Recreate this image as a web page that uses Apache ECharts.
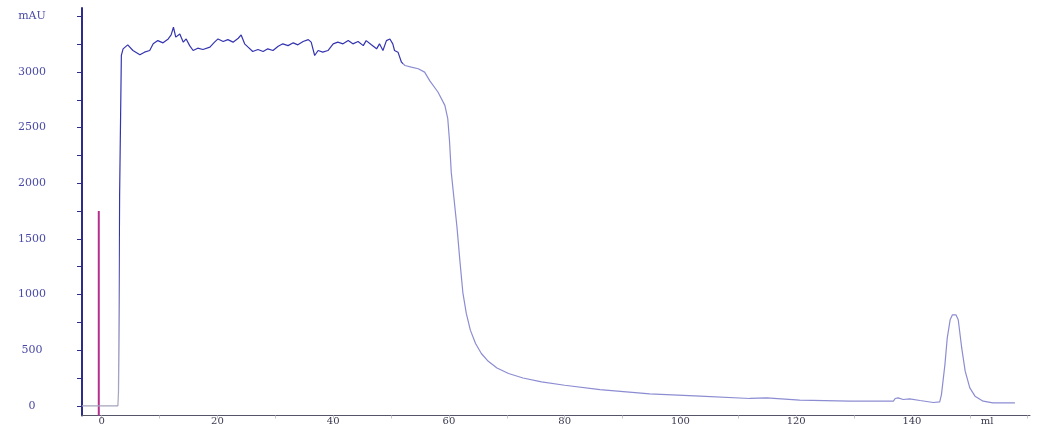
<!DOCTYPE html>
<html>
<head>
<meta charset="utf-8">
<script src="https://cdn.jsdelivr.net/npm/echarts@6/dist/echarts.min.js"></script>
<style>
html,body{margin:0;padding:0;background:#fff;}
#chart{width:1039px;height:426px;}
</style>
</head>
<body>
<div id="chart"></div>
<script>
// Volume (ml) and absorbance (mAU)
const volume = [-3.4,2.8,2.9,3.1,3.4,3.7,4.5,5.4,6.6,7.4,8.3,8.9,9.7,10.6,11.5,12.0,12.4,12.8,13.5,14.1,14.6,15.2,15.8,16.6,17.5,18.7,19.5,20.1,21.0,21.8,22.7,23.6,24.1,24.7,25.3,26.1,27.0,27.9,28.7,29.6,30.5,31.3,32.2,33.1,33.9,34.8,35.7,36.2,36.8,37.4,38.2,39.1,40.0,40.8,41.7,42.6,43.4,44.3,45.2,45.7,46.6,47.5,48.0,48.6,49.2,49.8,50.3,50.6,51.2,51.8,52.4,53.5,54.7,55.8,56.7,58.1,59.3,59.8,60.1,60.4,60.9,61.4,61.9,62.4,63.0,63.7,64.6,65.6,66.8,68.3,70.3,72.8,76.0,80.0,86.1,94.7,103.4,112,114.9,120.6,129.3,136.2,136.8,137.1,137.6,138.5,139.6,141.4,143.7,144.8,145.1,145.7,146.1,146.6,147.0,147.6,148.0,148.6,149.2,150.0,150.9,152.3,154.0,157.8];
const absorbance = [0,0,120,1900,3150,3208,3244,3193,3154,3178,3193,3253,3282,3262,3297,3333,3402,3313,3342,3268,3297,3237,3193,3214,3202,3223,3268,3297,3274,3291,3268,3303,3333,3253,3223,3184,3202,3184,3208,3193,3232,3253,3237,3262,3244,3274,3291,3268,3148,3193,3178,3193,3253,3268,3253,3282,3253,3274,3237,3282,3244,3208,3253,3193,3282,3297,3253,3193,3178,3088,3058,3044,3029,2999,2920,2820,2700,2580,2380,2100,1850,1600,1300,1020,830,680,560,470,400,340,290,250,215,185,146,107,87,66,72,51,42,42,42,66,72,57,63,48,30,36,101,370,609,773,818,818,773,520,311,161,87,42,27,27];
// Injection marker
const injectVolume = [-0.5, -0.5];
const injectHeight = [-87, 1750];
// Tick labels
const xLabelValues = [0,20,40,60,80,100,120,140,153];
const xTickValues = [0,10,20,30,40,50,60,70,80,90,100,110,120,130,140,150,160];
const yLabelValues = [0,500,1000,1500,2000,2500,3000,3500];
const yTickValues = [0,250,500,750,1000,1250,1500,1750,2000,2250,2500,2750,3000,3250,3500];
const xUnit = 'ml';
const yUnit = 'mAU';

const chart = echarts.init(document.getElementById('chart'), null, {renderer:'canvas'});
chart.setOption({
  animation:false,
  backgroundColor:'#ffffff',
  grid:{left:82,right:9,top:8,bottom:9,containLabel:false},
  xAxis:{
    type:'value',min:-3.4,max:160.4,
    axisLine:{onZero:false,lineStyle:{color:'#55556a',width:1}},
    axisTick:{customValues:xTickValues,length:3,lineStyle:{color:'#c4c4cc'}},
    axisLabel:{customValues:xLabelValues,margin:1,fontSize:10,lineHeight:9,
      fontFamily:'DejaVu Serif',color:'#3a3a50',
      formatter:v=>v===153?xUnit:String(v)},
    splitLine:{show:false}
  },
  yAxis:{
    type:'value',min:-87,max:3575,
    axisLine:{onZero:false,lineStyle:{color:'#2c2c8c',width:2}},
    axisTick:{customValues:yTickValues,length:5,lineStyle:{color:'#2c2c8c'}},
    axisLabel:{customValues:yLabelValues,margin:50,align:'center',fontSize:11,
      fontFamily:'DejaVu Serif',color:'#4a4aa6',
      formatter:v=>v===3500?yUnit:String(v)},
    splitLine:{show:false}
  },
  visualMap:{show:false,type:'piecewise',seriesIndex:0,dimension:0,
    pieces:[{lt:3.0,color:'#a4a4bc'},{gte:3.0,lt:52,color:'#3434b0'},{gte:52,color:'#8c8cd2'}]},
  series:[
    {type:'line',data:volume.map((v,i)=>[v,absorbance[i]]),showSymbol:false,
      lineStyle:{width:1.2},z:3},
    {type:'line',data:injectVolume.map((v,i)=>[v,injectHeight[i]]),showSymbol:false,
      lineStyle:{width:2,color:'#b4308c'},itemStyle:{color:'#b4308c'},z:2}
  ]
});
</script>
</body>
</html>
